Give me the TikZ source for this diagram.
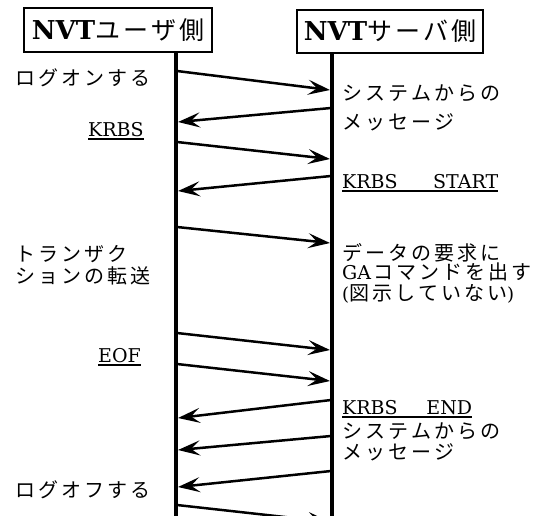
\documentclass[tikz,border=0pt]{standalone}
\usepackage{fontspec}
\setmainfont{DejaVu Serif}
\newfontfamily\jp{Noto Sans CJK JP}
\newfontfamily\lat{DejaVu Serif}
\usetikzlibrary{arrows.meta}
\newcommand\ulbox[1]{\setbox0=\hbox{#1}\rlap{\copy0}\rule[-3.6pt]{\wd0}{1.7pt}}
\makeatletter
\newcommand\sptext[2]{\def\sp@k{#1}\sp@loop#2\relax}
\def\sp@loop#1{\ifx#1\relax\else#1\kern\sp@k\expandafter\sp@loop\fi}
\makeatother
\tikzset{
  hdr/.style={draw, line width=1.5pt, inner sep=0pt,
    font=\fontsize{26}{30}\selectfont},
  life/.style={line width=3.4pt},
  msg/.style={line width=2.5pt, -{Stealth[length=22pt,width=15pt,inset=9pt]}},
  jtxt/.style={inner sep=0pt, anchor=west, text height=15pt, text depth=1pt,
    font=\fontsize{20}{22}\selectfont\jp},
  ltxt/.style={inner sep=0pt, anchor=base west, font=\fontsize{19}{22}\selectfont},
}
\newcommand\hj[1]{{\fontsize{25}{28}\selectfont\jp\sptext{3pt}{#1}\unkern}}
\newcommand\bj[1]{\sptext{3pt}{#1}\unkern}
\begin{document}
\begin{tikzpicture}[x=1pt,y=-1pt]
\useasboundingbox (0,0) rectangle (534,515);
\clip (0,0) rectangle (534,515);
\fill[white] (0,0) rectangle (534,515);
% headers
\node[hdr, minimum width=188pt, minimum height=44pt] (user) at (118,30) {\textbf{NVT}\hj{ユーザ側}};
\node[hdr, minimum width=186pt, minimum height=43pt] (server) at (390,31.5) {\textbf{NVT}\hj{サーバ側}};
% lifelines
\coordinate (Lx) at (176,0);
\coordinate (Rx) at (332,0);
\coordinate (Lbot) at (176,520);
\coordinate (Rbot) at (332,520);
\draw[life] (user.south -| Lx) -- (Lbot);
\draw[life] (server.south -| Rx) -- (Rbot);
% message end points
\coordinate (a1) at (177,71);  \coordinate (b1) at (330,90);
\coordinate (b2) at (331,108); \coordinate (a2) at (178,122);
\coordinate (a3) at (177,142); \coordinate (b3) at (330,159);
\coordinate (b4) at (331,176); \coordinate (a4) at (178,191);
\coordinate (a5) at (177,227); \coordinate (b5) at (330,243);
\coordinate (a6) at (177,333); \coordinate (b6) at (330,350);
\coordinate (a7) at (177,364); \coordinate (b7) at (330,381);
\coordinate (b8) at (331,400); \coordinate (a8) at (178,418);
\coordinate (b9) at (331,436); \coordinate (a9) at (178,450);
\coordinate (b10) at (331,471); \coordinate (a10) at (178,487);
\coordinate (a11) at (177,505); \coordinate (b11) at (330,522);
\draw[msg] (a1) -- (b1);
\draw[msg] (b2) -- (a2);
\draw[msg] (a3) -- (b3);
\draw[msg] (b4) -- (a4);
\draw[msg] (a5) -- (b5);
\draw[msg] (a6) -- (b6);
\draw[msg] (a7) -- (b7);
\draw[msg] (b8) -- (a8);
\draw[msg] (b9) -- (a9);
\draw[msg] (b10) -- (a10);
\draw[msg] (a11) -- (b11);
% left labels
\node[jtxt] (logon) at (15,78) {\bj{ログオンする}};
\node[ltxt] (krbs) at (88,136) {\ulbox{KRBS}};
\node[jtxt] (tr1) at (15,254) {\bj{トランザク}};
\node[jtxt] (tr2) at (15,276) {\bj{ションの転送}};
\node[ltxt] (eof) at (98,362) {\ulbox{EOF}};
\node[jtxt] (logoff) at (15,490) {\bj{ログオフする}};
% right labels
\node[jtxt] (sys1) at (342,93) {\bj{システムからの}};
\node[jtxt] (msg1) at (342,122) {\bj{メッセージ}};
\node[ltxt] (kstart) at (342,188) {\ulbox{\hbox to 156pt{KRBS\hfil START}}};
\node[jtxt] (dat1) at (342,253) {\bj{データの要求に}};
\node[jtxt] (dat2) at (342,272) {{\lat\fontsize{19}{22}\selectfont GA}\kern2pt\bj{コマンドを出す}};
\node[jtxt] (dat3) at (342,293) {{\lat\fontsize{18}{20}\selectfont(}\bj{図示していない}{\lat\fontsize{18}{20}\selectfont)}};
\node[ltxt] (kend) at (342,414) {\ulbox{\hbox to 130pt{KRBS\hfil END}}};
\node[jtxt] (sys2) at (342,431) {\bj{システムからの}};
\node[jtxt] (msg2) at (342,452) {\bj{メッセージ}};
\end{tikzpicture}
\end{document}
